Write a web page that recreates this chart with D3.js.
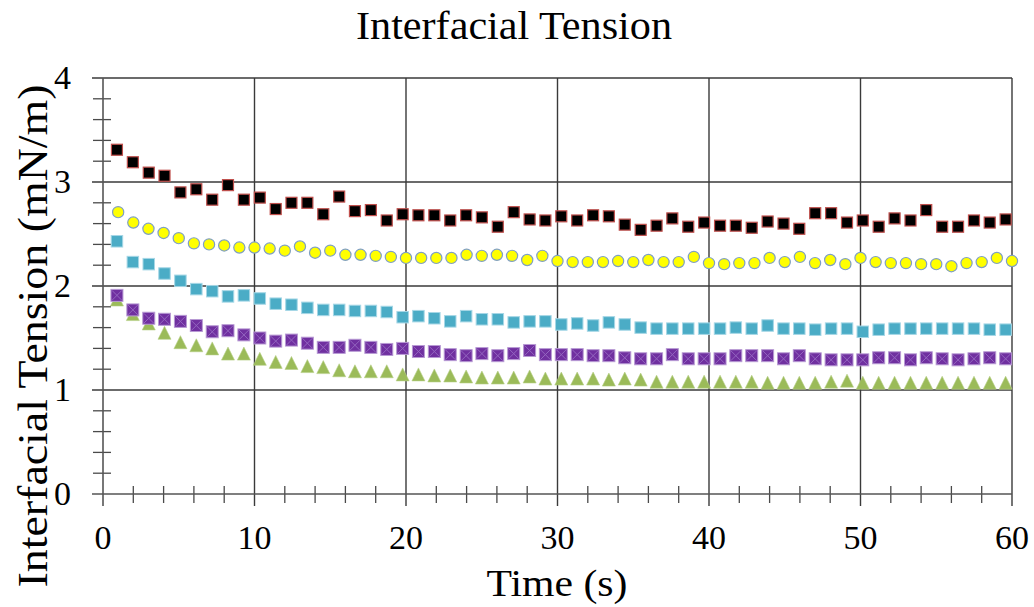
<!DOCTYPE html>
<html><head><meta charset="utf-8">
<script src="https://cdn.jsdelivr.net/npm/d3@7"></script>
<style>body{margin:0;background:#fff}svg{display:block}</style>
</head><body>
<script>
// ---- data ----
const timesA = [0.92,1.97,3.02,4.06,5.11,6.16,7.21,8.25,9.30,10.35,11.40,12.44,13.49,14.54,15.59,16.63,17.68,18.73,19.78,20.82,21.87,22.92,23.97,25.01,26.06,27.11,28.16,29.20,30.25,31.30,32.35,33.39,34.44,35.49,36.54,37.58,38.63,39.68,40.73,41.77,42.82,43.87,44.92,45.96,47.01,48.06,49.11,50.15,51.20,52.25,53.30,54.34,55.39,56.44,57.49,58.53,59.58];
const timesB = [1,2,3,4,5,6,7,8,9,10,11,12,13,14,15,16,17,18,19,20,21,22,23,24,25,26,27,28,29,30,31,32,33,34,35,36,37,38,39,40,41,42,43,44,45,46,47,48,49,50,51,52,53,54,55,56,57,58,59,60];
const blackVals = [3.31,3.19,3.09,3.06,2.90,2.93,2.83,2.97,2.83,2.85,2.74,2.80,2.80,2.69,2.86,2.72,2.73,2.63,2.69,2.68,2.68,2.63,2.68,2.66,2.57,2.71,2.64,2.63,2.67,2.63,2.68,2.67,2.59,2.54,2.58,2.65,2.57,2.61,2.58,2.58,2.56,2.62,2.60,2.55,2.70,2.70,2.61,2.63,2.57,2.65,2.63,2.73,2.57,2.57,2.63,2.61,2.64];
const yellowVals = [2.71,2.61,2.55,2.51,2.46,2.41,2.40,2.39,2.37,2.37,2.36,2.34,2.38,2.32,2.34,2.30,2.30,2.29,2.28,2.27,2.27,2.27,2.27,2.30,2.29,2.30,2.29,2.25,2.29,2.24,2.23,2.23,2.23,2.24,2.23,2.25,2.23,2.23,2.28,2.22,2.21,2.22,2.22,2.27,2.23,2.28,2.22,2.25,2.21,2.27,2.23,2.22,2.22,2.21,2.21,2.19,2.22,2.23,2.27,2.24];
const cyanVals = [2.43,2.23,2.21,2.12,2.05,1.97,1.95,1.90,1.91,1.88,1.83,1.82,1.79,1.77,1.77,1.76,1.76,1.75,1.70,1.71,1.69,1.66,1.71,1.68,1.68,1.65,1.66,1.66,1.63,1.64,1.62,1.65,1.63,1.60,1.59,1.59,1.59,1.59,1.59,1.60,1.59,1.62,1.59,1.59,1.58,1.59,1.59,1.56,1.58,1.59,1.59,1.59,1.59,1.59,1.59,1.58,1.58];
const purpleVals = [1.91,1.77,1.69,1.68,1.66,1.62,1.56,1.57,1.53,1.50,1.47,1.48,1.45,1.41,1.41,1.43,1.41,1.39,1.40,1.37,1.37,1.34,1.33,1.35,1.33,1.35,1.38,1.34,1.34,1.34,1.33,1.33,1.31,1.30,1.30,1.34,1.30,1.30,1.30,1.33,1.33,1.33,1.30,1.33,1.30,1.29,1.29,1.29,1.31,1.31,1.29,1.31,1.30,1.29,1.30,1.31,1.30];
const greenVals = [1.87,1.73,1.64,1.55,1.46,1.43,1.40,1.35,1.35,1.30,1.27,1.26,1.23,1.22,1.19,1.18,1.18,1.18,1.15,1.15,1.14,1.14,1.13,1.12,1.12,1.12,1.13,1.11,1.11,1.11,1.11,1.10,1.11,1.10,1.08,1.08,1.08,1.08,1.08,1.08,1.08,1.07,1.07,1.07,1.07,1.08,1.09,1.07,1.07,1.07,1.07,1.07,1.07,1.07,1.07,1.07,1.07];
const xTicks = [0,10,20,30,40,50,60];
const yTicks = [0,1,2,3,4];
const titleText = "Interfacial Tension";
const xLabel = "Time (s)";
const yLabel = "Interfacial Tension (mN/m)";

// ---- layout ----
const W = 1034, H = 607;
const m = {left:103, right:22, top:78, bottom:113};
const iw = W - m.left - m.right, ih = H - m.top - m.bottom;
const font = "'Liberation Serif','DejaVu Serif',serif";
const gridCol = "#3a3a3a";

const svg = d3.select("body").append("svg").attr("width", W).attr("height", H);
const x = d3.scaleLinear().domain([0,60]).range([m.left, m.left+iw]);
const y = d3.scaleLinear().domain([0,4]).range([m.top+ih, m.top]);

// grid
const g = svg.append("g");
g.selectAll("line.vg").data(xTicks.filter(d=>d>0)).join("line")
  .attr("x1", d=>x(d)).attr("x2", d=>x(d)).attr("y1", y(4)).attr("y2", y(0)+12)
  .attr("stroke", gridCol).attr("stroke-width", 1.4);
g.selectAll("line.hg").data(yTicks.filter(d=>d>0)).join("line")
  .attr("x1", x(0)-11).attr("x2", x(60)).attr("y1", d=>y(d)).attr("y2", d=>y(d))
  .attr("stroke", gridCol).attr("stroke-width", 1.4);

// minor ticks
const yMinor = d3.range(0, 4.001, 0.2).filter(v => Math.abs(v - Math.round(v)) > 0.01);
g.selectAll("line.ym").data(yMinor).join("line")
  .attr("x1", x(0)-10).attr("x2", x(0)+8).attr("y1", d=>y(d)).attr("y2", d=>y(d))
  .attr("stroke", "#4a4a4a").attr("stroke-width", 1.3);
const xMinor = d3.range(0, 60.001, 2).filter(v => v % 10 !== 0);
g.selectAll("line.xm").data(xMinor).join("line")
  .attr("x1", d=>x(d)).attr("x2", d=>x(d)).attr("y1", y(0)-8).attr("y2", y(0)+9)
  .attr("stroke", "#4a4a4a").attr("stroke-width", 1.3);

// axes lines
g.append("line").attr("x1", x(0)-11).attr("x2", x(60)).attr("y1", y(0)).attr("y2", y(0))
  .attr("stroke", "#555").attr("stroke-width", 1.6);
g.append("line").attr("x1", x(0)).attr("x2", x(0)).attr("y1", y(4)).attr("y2", y(0)+12)
  .attr("stroke", "#555").attr("stroke-width", 1.6);

// tick labels
svg.selectAll("text.xt").data(xTicks).join("text")
  .attr("x", d=>x(d)).attr("y", y(0)+55).attr("text-anchor","middle")
  .attr("font-family", font).attr("font-size", 34).attr("fill","#000").text(d=>d);
svg.selectAll("text.yt").data(yTicks).join("text")
  .attr("x", x(0)-32).attr("y", d=>y(d)+11).attr("text-anchor","end")
  .attr("font-family", font).attr("font-size", 34).attr("fill","#000").text(d=>d);

// titles
svg.append("text").attr("x", 514).attr("y", 39).attr("text-anchor","middle")
  .attr("font-family", font).attr("font-size", 40).attr("textLength", 316).attr("lengthAdjust","spacingAndGlyphs").text(titleText);
svg.append("text").attr("x", 557).attr("y", 596).attr("text-anchor","middle")
  .attr("font-family", font).attr("font-size", 38).attr("textLength", 141).attr("lengthAdjust","spacingAndGlyphs").text(xLabel);
svg.append("text").attr("transform", "translate(47,336) rotate(-90)").attr("text-anchor","middle")
  .attr("font-family", font).attr("font-size", 43).attr("textLength", 503).attr("lengthAdjust","spacingAndGlyphs").text(yLabel);

// series
const pts = (ts, vs) => ts.map((t,i)=>({t, v:vs[i]}));

// green triangles
const tri = 13;
svg.append("g").selectAll("path").data(pts(timesA, greenVals)).join("path")
  .attr("d", d => {
    const cx = x(d.t), cy = y(d.v);
    return `M${cx},${cy-tri/2}L${cx+tri/2},${cy+tri/2}L${cx-tri/2},${cy+tri/2}Z`;
  })
  .attr("fill", "#9bbb59").attr("stroke", "#b5cf85").attr("stroke-width", 0.6);

// cyan squares
const sq = 11.5;
svg.append("g").selectAll("rect").data(pts(timesA, cyanVals)).join("rect")
  .attr("x", d=>x(d.t)-sq/2).attr("y", d=>y(d.v)-sq/2).attr("width", sq).attr("height", sq)
  .attr("fill", "#4bacc6").attr("stroke", "#a6d7e6").attr("stroke-width", 1);

// purple squares with X
const pg = svg.append("g").selectAll("g").data(pts(timesA, purpleVals)).join("g")
  .attr("transform", d=>`translate(${x(d.t)},${y(d.v)})`);
pg.append("rect").attr("x", -6).attr("y", -6).attr("width", 12).attr("height", 12)
  .attr("fill", "#7030a0").attr("stroke", "#b89ad4").attr("stroke-width", 1);
pg.append("path").attr("d", "M-5,-5L5,5M5,-5L-5,5").attr("stroke", "#9466c0").attr("stroke-width", 1);

// yellow circles
svg.append("g").selectAll("circle").data(pts(timesB, yellowVals)).join("circle")
  .attr("cx", d=>x(d.t)).attr("cy", d=>y(d.v)).attr("r", 5.6)
  .attr("fill", "#ffff00").attr("stroke", "#7f9fc4").attr("stroke-width", 1.2);

// black squares
svg.append("g").selectAll("rect").data(pts(timesA, blackVals)).join("rect")
  .attr("x", d=>x(d.t)-5.5).attr("y", d=>y(d.v)-5.5).attr("width", 11).attr("height", 11)
  .attr("fill", "#000").attr("stroke", "#c0504d").attr("stroke-width", 1.2);
</script>
</body></html>
